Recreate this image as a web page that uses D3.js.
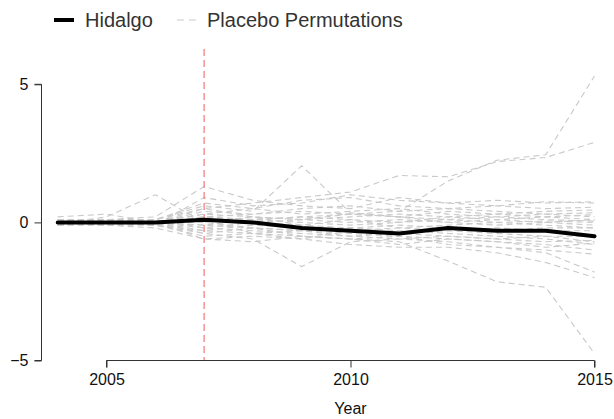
<!DOCTYPE html>
<html>
<head>
<meta charset="utf-8">
<script src="https://cdn.jsdelivr.net/npm/d3@7"></script>
<style>
  html, body { margin: 0; padding: 0; background: #fff; }
  svg { display: block; font-family: "Liberation Sans", Arial, Helvetica, sans-serif; }
</style>
</head>
<body>
<svg id="chart" width="614" height="419"></svg>
<script>
// ---- data ----
const years = [2004, 2005, 2006, 2007, 2008, 2009, 2010, 2011, 2012, 2013, 2014, 2015];
const hidalgo = [0.0, 0.0, 0.0, 0.1, 0.0, -0.2, -0.3, -0.4, -0.2, -0.3, -0.3, -0.5];
const placebo01 = [0.1, 0.0, -0.1, 0.2, 0.1, 0.2, 0.3, 0.4, 1.5, 2.25, 2.45, 5.3];
const placebo02 = [0.0, 0.1, 0.0, 0.5, 0.7, 0.9, 1.1, 1.7, 1.65, 2.2, 2.35, 2.9];
const placebo03 = [0.0, 0.0, 0.0, -0.3, -0.4, -0.5, -0.6, -0.7, -1.4, -2.15, -2.35, -4.75];
const placebo04 = [0.0, 0.0, 0.1, 0.6, 0.4, 2.05, 0.35, 0.2, 0.1, 0.2, 0.1, 0.05];
const placebo05 = [0.0, -0.1, -0.1, -0.4, -0.6, -1.6, -0.7, -0.6, -0.5, -0.6, -0.5, -0.7];
const placebo06 = [-0.05, 0.2, 1.0, 0.0, 0.2, 0.1, 0.3, 0.2, 0.0, 0.1, 0.2, 0.1];
const placebo07 = [0.1, 0.1, 0.2, 1.3, 0.8, 0.6, 0.5, 0.9, 0.7, 0.8, 0.7, 0.75];
const placebo08 = [0.0, 0.0, -0.1, 0.9, 0.6, 0.7, 1.0, 0.8, 0.7, 0.6, 0.75, 0.7];
const placebo09 = [0.2, 0.3, 0.0, 0.4, 0.3, 0.4, 0.3, 0.2, 0.4, 0.3, 0.2, 0.28];
const placebo10 = [-0.1, -0.1, -0.2, -0.6, -0.5, -0.6, -0.8, -0.9, -0.9, -1.1, -1.45, -2.0];
const placebo11 = [0.0, 0.0, 0.1, -0.2, -0.3, -0.4, -0.5, -0.6, -0.7, -0.9, -1.1, -1.8];
const placebo12 = [0.0, 0.1, 0.0, 0.2, 0.1, 0.0, -0.1, 0.0, 0.1, 0.0, 0.05, 0.0];
const placebo13 = [0.0, -0.1, 0.0, -0.1, -0.2, -0.3, -0.2, -0.3, -0.4, -0.5, -0.6, -0.8];
const placebo14 = [0.1, 0.0, 0.0, 0.3, 0.2, 0.1, 0.2, 0.3, 0.2, 0.3, 0.4, 0.45];
const placebo15 = [-0.1, 0.0, -0.1, -0.5, -0.4, -0.3, -0.4, -0.5, -0.6, -0.7, -0.8, -1.0];
const placebo16 = [0.0, 0.0, 0.0, 0.1, 0.0, -0.1, -0.2, -0.1, -0.2, -0.3, -0.2, -0.2];
const placebo17 = [0.0, 0.1, 0.1, 0.7, 0.5, 0.3, 0.4, 0.5, 0.3, 0.2, 0.3, 0.2];
const placebo18 = [0.0, 0.0, -0.1, -0.3, -0.1, -0.2, -0.3, -0.4, -0.3, -0.4, -0.5, -0.5];
const placebo19 = [0.1, 0.0, 0.0, 0.0, -0.2, -0.5, -0.6, -0.5, -0.8, -0.9, -1.0, -1.15];
const placebo20 = [0.0, 0.0, 0.0, 0.2, 0.3, 0.5, 0.6, 0.4, 0.5, 0.4, 0.3, 0.35];
const placebo21 = [0.0, -0.05, 0.0, -0.2, 0.0, 0.1, 0.0, 0.1, 0.0, -0.1, 0.0, -0.1];
const placebo22 = [0.0, 0.0, 0.1, 0.5, 0.2, -0.1, 0.1, 0.0, 0.2, 0.1, 0.0, 0.1];
const placebo23 = [-0.1, 0.0, 0.0, -0.6, -0.7, -0.5, -0.6, -0.8, -0.6, -0.7, -0.9, -0.75];
const placebo24 = [0.0, 0.0, 0.0, 0.3, 0.5, 0.8, 0.9, 0.6, 0.5, 0.6, 0.5, 0.55];
const placebo25 = [0.0, 0.0, -0.1, 0.1, -0.4, -0.6, -0.3, -0.2, -0.3, -0.2, -0.3, -0.3];
const placebo26 = [0.1, 0.1, 0.0, -0.1, 0.1, 0.2, 0.1, -0.2, -0.1, 0.0, -0.1, -0.2];
const placebo27 = [0.0, 0.0, 0.0, -0.4, -0.2, -0.3, -0.5, -0.4, -0.5, -0.6, -0.7, -0.65];
const placebos = [placebo01, placebo02, placebo03, placebo04, placebo05, placebo06, placebo07,
  placebo08, placebo09, placebo10, placebo11, placebo12, placebo13, placebo14, placebo15,
  placebo16, placebo17, placebo18, placebo19, placebo20, placebo21, placebo22, placebo23,
  placebo24, placebo25, placebo26, placebo27];
const treatYear = 2007;
const xTicks = [2005, 2010, 2015];
const yTicks = [-5, 0, 5];
const legendLabels = ["Hidalgo", "Placebo Permutations"];
const xTitle = "Year";

// ---- drawing ----
const svg = d3.select("#chart");
const x = d3.scaleLinear().domain([2005, 2015]).range([106.5, 594.5]);
const y = d3.scaleLinear().domain([-5, 5]).range([360.5, 84.3]);
const topY = 49;

const line = d3.line().x((d, i) => x(years[i])).y(d => y(d));

const axisColor = "#333";
const placeboColor = "#c9c9c9";

// placebo lines
svg.append("g").selectAll("path").data(placebos).join("path")
  .attr("d", d => line(d))
  .attr("fill", "none")
  .attr("stroke", placeboColor)
  .attr("stroke-width", 1.1)
  .attr("stroke-dasharray", "6,4");

// treatment vertical line
svg.append("line")
  .attr("x1", x(treatYear)).attr("x2", x(treatYear))
  .attr("y1", topY).attr("y2", y(-5))
  .attr("stroke", "#f26b6b").attr("stroke-width", 1.1)
  .attr("stroke-dasharray", "7,4");

// Hidalgo line
svg.append("path")
  .attr("d", line(hidalgo))
  .attr("fill", "none")
  .attr("stroke", "#000")
  .attr("stroke-width", 4)
  .attr("stroke-linejoin", "round")
  .attr("stroke-linecap", "round");

// x axis
const xAxis = d3.axisBottom(x).tickValues(xTicks).tickFormat(d3.format("d")).tickSize(7).tickPadding(6);
const gx = svg.append("g").attr("transform", `translate(0,${y(-5)})`).call(xAxis);
gx.select(".domain").attr("stroke", axisColor).attr("d", `M${x(2005)},7V0H${x(2015)}V7`);
gx.selectAll(".tick line").attr("stroke", axisColor);
gx.selectAll("text").attr("fill", "#111").attr("font-size", 16).attr("font-family", "Liberation Sans, Arial, sans-serif");

// y axis
const yAxis = d3.axisLeft(y).tickValues(yTicks).tickFormat(d => d < 0 ? "\u2212" + Math.abs(d) : d).tickSize(7).tickPadding(6);
const gy = svg.append("g").attr("transform", `translate(41.5,0)`).call(yAxis);
gy.select(".domain").attr("stroke", axisColor).attr("d", `M-7,${y(5)}H0V${y(-5)}H-7`);
gy.selectAll(".tick line").attr("stroke", axisColor);
gy.selectAll("text").attr("fill", "#111").attr("font-size", 16).attr("font-family", "Liberation Sans, Arial, sans-serif");

// x title
svg.append("text")
  .attr("x", (x(2005) + x(2015)) / 2).attr("y", 414)
  .attr("text-anchor", "middle").attr("font-size", 16).attr("fill", "#111")
  .text(xTitle);

// legend
const lg = svg.append("g");
lg.append("line").attr("x1", 54).attr("x2", 74).attr("y1", 20).attr("y2", 20)
  .attr("stroke", "#000").attr("stroke-width", 4);
lg.append("text").attr("x", 85).attr("y", 27).attr("font-size", 20).attr("fill", "#333").text(legendLabels[0]);
lg.append("line").attr("x1", 177).attr("x2", 199).attr("y1", 20).attr("y2", 20)
  .attr("stroke", placeboColor).attr("stroke-width", 1.1).attr("stroke-dasharray", "7,5");
lg.append("text").attr("x", 207).attr("y", 27).attr("font-size", 20).attr("fill", "#333").text(legendLabels[1]);
</script>
</body>
</html>
